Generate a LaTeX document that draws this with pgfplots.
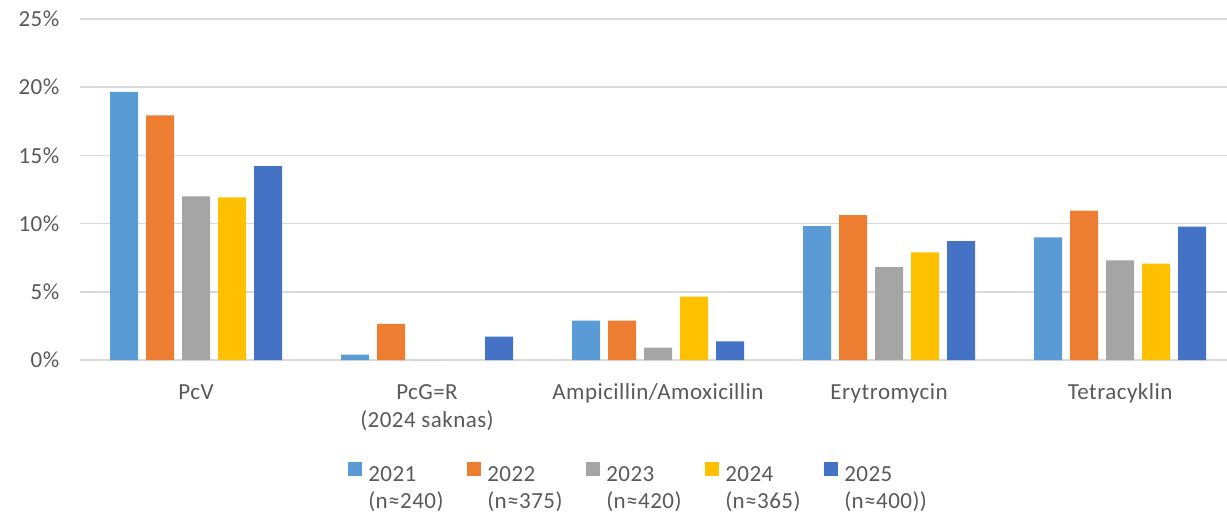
\documentclass[border=0pt]{standalone}
\usepackage{pgfplots}
\pgfplotsset{compat=1.18}
\usepackage{fontspec}
\setmainfont{Carlito}[LetterSpace=2]
\definecolor{c21}{HTML}{5B9BD5}
\definecolor{c22}{HTML}{ED7D31}
\definecolor{c23}{HTML}{A5A5A5}
\definecolor{c24}{HTML}{FFC000}
\definecolor{c25}{HTML}{4472C4}
\definecolor{txt}{HTML}{595959}
\definecolor{gridc}{HTML}{D9D9D9}
\pgfplotsset{sqleg/.style={legend image code/.code={\fill[##1] (0pt,0pt) rectangle (6.67pt,6.67pt);}}}
\newcommand{\legtxt}[2]{\parbox[t]{46pt}{\fontsize{11.5}{13.7}\selectfont #1\\#2}}
\begin{document}
\fontsize{11.5}{14}\selectfont
\begin{tikzpicture}
\begin{axis}[
  at={(0,0)}, anchor=south west,
  scale only axis, width=573.25pt, height=170.5pt,
  xmin=-0.5, xmax=4.463, ymin=0, ymax=25,
  ybar=4pt, bar width=14pt,
  axis line style={draw=none},
  major tick length=0pt,
  ytick={0,5,10,15,20,25},
  yticklabel={\pgfmathprintnumber{\tick}\%},
  /pgf/number format/assume math mode=true,
  ymajorgrids, grid style={gridc, line width=0.75pt},
  xtick={0,1,2,3,4},
  xticklabels={PcV, {PcG=R\\(2024 saknas)}, Ampicillin/Amoxicillin, Erytromycin, Tetracyklin},
  typeset ticklabels with strut,
  tick label style={font=\fontsize{11.5}{14}\selectfont, text=txt},
  xticklabel style={align=center, yshift=-6pt},
  yticklabel style={xshift=-6.6pt},
  legend columns=5,
  legend style={at={(axis description cs:0.2336,-0.300)}, anchor=north west,
    draw=none, fill=none, inner sep=0pt, outer sep=0pt,
    font=\fontsize{11.5}{13.7}\selectfont, text=txt,
    nodes={inner sep=0pt},
    /tikz/every odd column/.append style={column sep=3.33pt},
    /tikz/every even column/.append style={column sep=3.5pt}},
]
\addplot[fill=c21, draw=none, sqleg] coordinates {(0,19.65) (1,0.39) (2,2.88) (3,9.81) (4,8.99)};
\addlegendentry{\legtxt{2021}{(n≈240)}}
\addplot[fill=c22, draw=none, sqleg] coordinates {(0,17.94) (1,2.64) (2,2.88) (3,10.62) (4,10.96)};
\addlegendentry{\legtxt{2022}{(n≈375)}}
\addplot[fill=c23, draw=none, sqleg] coordinates {(0,12.0) (1,0) (2,0.9) (3,6.81) (4,7.3)};
\addlegendentry{\legtxt{2023}{(n≈420)}}
\addplot[fill=c24, draw=none, sqleg] coordinates {(0,11.93) (2,4.64) (3,7.89) (4,7.06)};
\addlegendentry{\legtxt{2024}{(n≈365)}}
\addplot[fill=c25, draw=none, sqleg] coordinates {(0,14.22) (1,1.71) (2,1.37) (3,8.72) (4,9.77)};
\addlegendentry{\legtxt{2025}{(n≈400))}}
\end{axis}
\pgfresetboundingbox
\path[use as bounding box] (-40.25pt,-77.5pt) rectangle (573.25pt,180pt);
\end{tikzpicture}
\end{document}
